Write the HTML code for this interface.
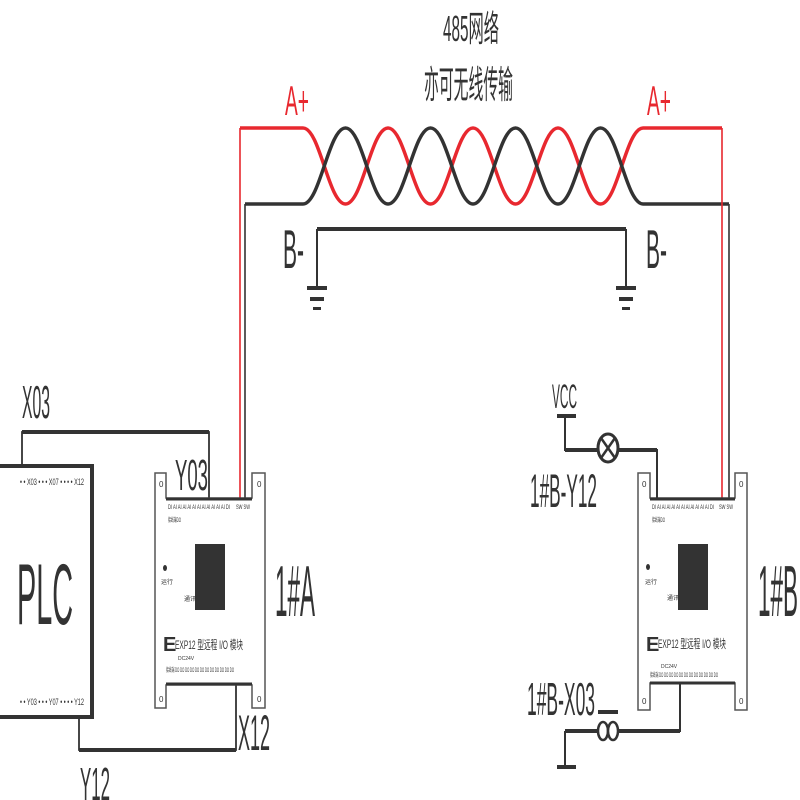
<!DOCTYPE html>
<html><head><meta charset="utf-8"><style>
html,body{margin:0;padding:0;background:#fff;width:800px;height:800px;overflow:hidden}
svg{display:block}
text{font-family:"Liberation Sans","Noto Sans CJK SC",sans-serif;fill:#333}
</style></head><body>
<svg width="800" height="800" viewBox="0 0 800 800" xmlns="http://www.w3.org/2000/svg">
<!-- top texts -->
<text x="443" y="41" font-size="36" textLength="56" lengthAdjust="spacingAndGlyphs">485网络</text>
<text x="424" y="98" font-size="38" textLength="89" lengthAdjust="spacingAndGlyphs">亦可无线传输</text>
<text x="285" y="115" font-size="42" fill="#e8282f" style="fill:#e8282f" textLength="24" lengthAdjust="spacingAndGlyphs">A+</text>
<text x="647" y="115" font-size="42" style="fill:#e8282f" textLength="24" lengthAdjust="spacingAndGlyphs">A+</text>
<text x="283" y="268" font-size="55" textLength="21" lengthAdjust="spacingAndGlyphs">B-</text>
<text x="646" y="268" font-size="55" textLength="21" lengthAdjust="spacingAndGlyphs">B-</text>

<!-- twisted pair -->
<g fill="none" stroke-width="3.5">
<path stroke="#e8282f" d="M240,128 H303 C320,128 328.5,204 345.5,204 C362.5,204 371,128 388,128 C405,128 413.5,204 430.5,204 C447.5,204 456,128 473,128 C490,128 498.5,204 515.5,204 C532.5,204 541,128 558,128 C575,128 583.5,204 600.5,204 C617.5,204 626,128 643,128 H722"/>
<path stroke="#333" d="M245,204 H303 C320,204 328.5,128 345.5,128 C362.5,128 371,204 388,204 C405,204 413.5,128 430.5,128 C447.5,128 456,204 473,204 C490,204 498.5,128 515.5,128 C532.5,128 541,204 558,204 C575,204 583.5,128 600.5,128 C617.5,128 626,204 643,204 H729"/>
</g>
<g fill="none" stroke-width="1.6">
<path stroke="#e8282f" d="M240,128 V500 M722,128 V500"/>
<path stroke="#333" d="M245,204 V500 M729,204 V500"/>
</g>
<!-- ground bar -->
<path d="M317,229 H626" stroke="#333" stroke-width="4" fill="none"/>
<path d="M317,229 V288 M626,229 V288" stroke="#333" stroke-width="2" fill="none"/>
<g fill="#333">
<rect x="307" y="286" width="20" height="4"/><rect x="310" y="297" width="14" height="4"/><rect x="313" y="307" width="8" height="3"/>
<rect x="616" y="286" width="20" height="4"/><rect x="619" y="297" width="14" height="4"/><rect x="622" y="307" width="8" height="3"/>
</g>

<!-- PLC -->
<rect x="-2" y="466" width="94" height="251" fill="#fff" stroke="#333" stroke-width="4"/>
<text x="20" y="472" font-size="9" textLength="64" lengthAdjust="spacingAndGlyphs" dy="13">• • X03 • • • X07 • • • • X12</text>
<text x="20" y="705" font-size="9" textLength="64" lengthAdjust="spacingAndGlyphs">• • Y03 • • • Y07 • • • • Y12</text>
<text x="17" y="624" font-size="86" textLength="56" lengthAdjust="spacingAndGlyphs">PLC</text>
<text x="22" y="418" font-size="46" textLength="28" lengthAdjust="spacingAndGlyphs">X03</text>
<text x="80" y="800" font-size="46" textLength="30" lengthAdjust="spacingAndGlyphs">Y12</text>
<path d="M22,466 V432 H209 V500" stroke="#333" stroke-width="1.8" fill="none"/>
<path d="M209,432 H22" stroke="#333" stroke-width="4" fill="none"/>
<path d="M79,717 V750 H236 V684" stroke="#333" stroke-width="1.8" fill="none"/>
<path d="M79,750 H236" stroke="#333" stroke-width="4" fill="none"/>

<!-- Module A -->
<g>
<path d="M155,473 H166 V498 H252 V473 H265 V708 H252 V685 H166 V708 H155 Z" fill="#fff" stroke="#555" stroke-width="1.5"/>
<path d="M166,499 H252 M166,684 H252" stroke="#333" stroke-width="3"/>
<text x="159" y="487" font-size="8">0</text><text x="257" y="487" font-size="8">0</text>
<text x="159" y="702" font-size="8">0</text><text x="257" y="702" font-size="8">0</text>
<text x="168" y="509" font-size="6" textLength="62" lengthAdjust="spacingAndGlyphs">DI AI AI AI AI AI AI AI AI AI AI AI DI</text>
<text x="236" y="509" font-size="6" textLength="14" lengthAdjust="spacingAndGlyphs">SW SW</text>
<text x="168" y="522" font-size="6" textLength="13" lengthAdjust="spacingAndGlyphs">接线端DO</text>
<rect x="195" y="544" width="30" height="66" fill="#333"/>
<ellipse cx="165" cy="568" rx="2" ry="3" fill="#333"/>
<text x="161" y="584" font-size="6">运行</text><text x="184" y="601" font-size="6">通讯</text>
<text x="163" y="651" font-size="20" font-weight="bold" style="fill:#333">E</text>
<text x="175" y="649" font-size="12" textLength="68" lengthAdjust="spacingAndGlyphs">EXP12 型远程 I/O 模块</text>
<text x="178" y="660" font-size="5">DC24V</text>
<text x="166" y="672" font-size="6" textLength="68" lengthAdjust="spacingAndGlyphs">接线端 DO DO DO DO DO DO DO DO DO DO DO DO</text>
</g>
<text x="175" y="490" font-size="44" textLength="33" lengthAdjust="spacingAndGlyphs">Y03</text>
<text x="238" y="750" font-size="50" textLength="32" lengthAdjust="spacingAndGlyphs">X12</text>
<text x="275" y="616" font-size="72" textLength="40" lengthAdjust="spacingAndGlyphs">1#A</text>

<!-- Module B -->
<g>
<path d="M638,473 H650 V498 H735 V473 H747 V710 H735 V683 H650 V710 H638 Z" fill="#fff" stroke="#555" stroke-width="1.5"/>
<path d="M650,499 H735 M650,683 H735" stroke="#333" stroke-width="3"/>
<text x="642" y="487" font-size="8">0</text><text x="739" y="487" font-size="8">0</text>
<text x="642" y="704" font-size="8">0</text><text x="739" y="704" font-size="8">0</text>
<text x="652" y="509" font-size="6" textLength="62" lengthAdjust="spacingAndGlyphs">DI AI AI AI AI AI AI AI AI AI AI AI DI</text>
<text x="719" y="509" font-size="6" textLength="14" lengthAdjust="spacingAndGlyphs">SW SW</text>
<text x="652" y="522" font-size="6" textLength="13" lengthAdjust="spacingAndGlyphs">接线端DO</text>
<rect x="678" y="544" width="30" height="66" fill="#333"/>
<ellipse cx="648" cy="567" rx="2" ry="3" fill="#333"/>
<text x="645" y="584" font-size="6">运行</text><text x="667" y="600" font-size="6">通讯</text>
<text x="646" y="651" font-size="20" font-weight="bold" style="fill:#333">E</text>
<text x="658" y="648" font-size="12" textLength="68" lengthAdjust="spacingAndGlyphs">EXP12 型远程 I/O 模块</text>
<text x="661" y="668" font-size="5">DC24V</text>
<text x="650" y="677" font-size="6" textLength="68" lengthAdjust="spacingAndGlyphs">接线端 DO DO DO DO DO DO DO DO DO DO DO DO</text>
</g>
<text x="758" y="616" font-size="72" textLength="40" lengthAdjust="spacingAndGlyphs">1#B</text>

<!-- Lamp circuit -->
<text x="552" y="408" font-size="34" textLength="25" lengthAdjust="spacingAndGlyphs">VCC</text>
<rect x="557" y="414" width="19" height="4" fill="#333"/>
<path d="M565,416 V450 H597 M619,450 H657 V500" stroke="#333" stroke-width="2" fill="none"/>
<path d="M565,450 H597 M619,450 H657" stroke="#333" stroke-width="4" fill="none"/>
<ellipse cx="608" cy="448" rx="10" ry="14" fill="#fff" stroke="#333" stroke-width="3"/>
<path d="M601,438 L615,458 M615,438 L601,458" stroke="#333" stroke-width="2.5"/>
<text x="530" y="507" font-size="47" textLength="67" lengthAdjust="spacingAndGlyphs">1#B-Y12</text>

<!-- Switch circuit -->
<text x="527" y="715" font-size="46" textLength="68" lengthAdjust="spacingAndGlyphs">1#B-X03</text>
<rect x="598" y="710" width="20" height="4" fill="#333"/>
<path d="M565,731 H598 M618,731 H680 V684" stroke="#333" stroke-width="2" fill="none"/>
<path d="M565,731 H598 M618,731 H680" stroke="#333" stroke-width="4" fill="none"/>
<path d="M565,731 V767" stroke="#333" stroke-width="2"/>
<rect x="557" y="765" width="19" height="4" fill="#333"/>
<ellipse cx="603" cy="731" rx="5" ry="9" fill="#fff" stroke="#333" stroke-width="2.5"/>
<ellipse cx="613" cy="731" rx="5" ry="9" fill="#fff" stroke="#333" stroke-width="2.5"/>
</svg>
</body></html>
